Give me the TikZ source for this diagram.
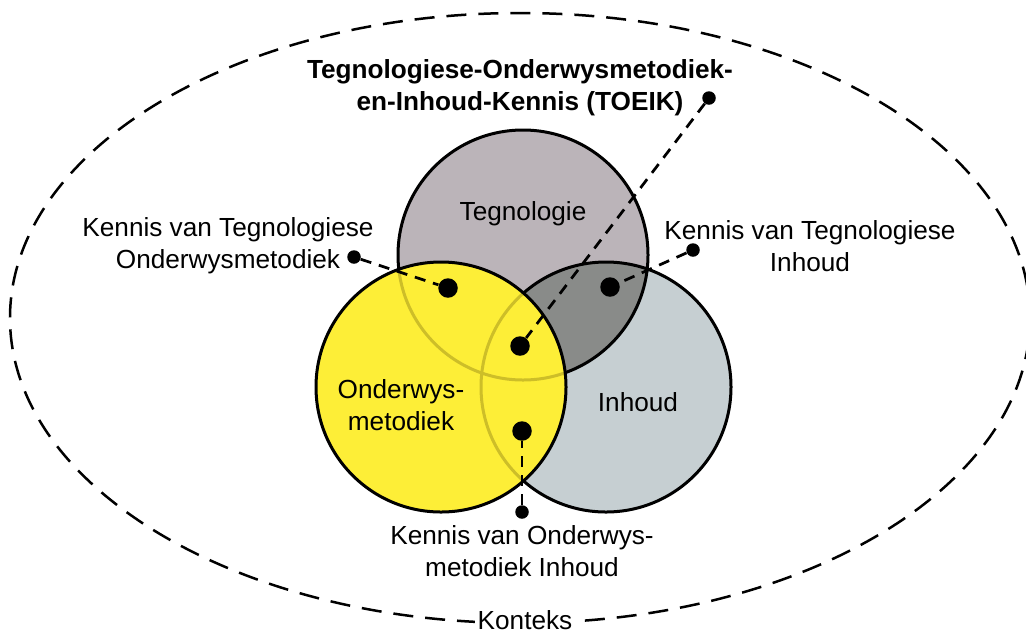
\documentclass[tikz,border=0pt]{standalone}
\usepackage{fontspec}
\setmainfont{Liberation Sans}
\usetikzlibrary{positioning}
\definecolor{tgrey}{RGB}{187,180,185}
\definecolor{cgrey}{RGB}{198,207,210}
\definecolor{tcgrey}{RGB}{137,139,137}
\definecolor{pyellow}{RGB}{253,238,55}
\definecolor{ringolive}{RGB}{205,190,40}
\tikzset{
  bigdot/.style={circle, fill=black, inner sep=0pt, minimum size=3.9mm},
  smalldot/.style={circle, fill=black, inner sep=0pt, minimum size=2.7mm},
  conn/.style={line width=0.55mm, dash pattern=on 2.2mm off 1.6mm},
  ring/.style={line width=0.6mm},
  lbl/.style={align=center, font=\fontsize{14.9}{18.2}\selectfont},
}

\begin{document}
\begin{tikzpicture}[x=0.2mm, y=-0.2mm]
\useasboundingbox (0,0) rectangle (1026,634);
\coordinate (T) at (523,255);
\coordinate (O) at (441,387);
\coordinate (I) at (606,387);

\draw[line width=0.5mm, dash pattern=on 4mm off 2.4mm] (520,318) ellipse [x radius=102mm, y radius=61mm];

\fill[tgrey] (T) circle [radius=25mm];
\fill[cgrey] (I) circle [radius=25mm];
\begin{scope}
  \clip (T) circle [radius=25mm];
  \fill[tcgrey] (I) circle [radius=25mm];
\end{scope}
\draw[ring] (T) circle [radius=25mm] (I) circle [radius=25mm];
\fill[pyellow] (O) circle [radius=25mm];
\begin{scope}
  \clip (O) circle [radius=25mm];
  \draw[ring, ringolive] (T) circle [radius=25mm] (I) circle [radius=25mm];
\end{scope}
\draw[ring] (O) circle [radius=25mm];

\node[lbl] (tegn) at (523,214) {Tegnologie};
\node[lbl] (onder) at (401,405) {Onderwys-\\metodiek};
\node[lbl] (inh) at (638,402) {Inhoud};

\node[lbl, font=\fontsize{14.9}{18.2}\selectfont\bfseries] (title) at (520,88) {Tegnologiese-Onderwysmetodiek-\\en-Inhoud-Kennis (TOEIK)};
\node[lbl] (toklbl) at (228,246) {Kennis van Tegnologiese\\Onderwysmetodiek};
\node[lbl] (tcklbl) at (810,246) {Kennis van Tegnologiese\\Inhoud};
\node[lbl] (oiklbl) at (522,551) {Kennis van Onderwys-\\metodiek Inhoud};
\node[lbl, fill=white, inner sep=0.6mm, anchor=base] (konteks) at (525,629) {Konteks};

\node[bigdot] (tok) at (448,288) {};
\node[bigdot] (tck) at (610,287) {};
\node[bigdot] (toeik) at (520,346) {};
\node[bigdot] (oik) at (522,431) {};
\node[smalldot] (tokend) at (354,257) {};
\node[smalldot] (tckend) at (693,250) {};
\node[smalldot] (toeikend) at (709,98) {};
\node[smalldot] (oikend) at (522,512) {};

\draw[conn] (tokend) -- (tok);
\draw[conn] (tckend) -- (tck);
\draw[conn] (toeikend) -- (toeik);
\draw[conn] (oikend) -- (oik);
\end{tikzpicture}
\end{document}
